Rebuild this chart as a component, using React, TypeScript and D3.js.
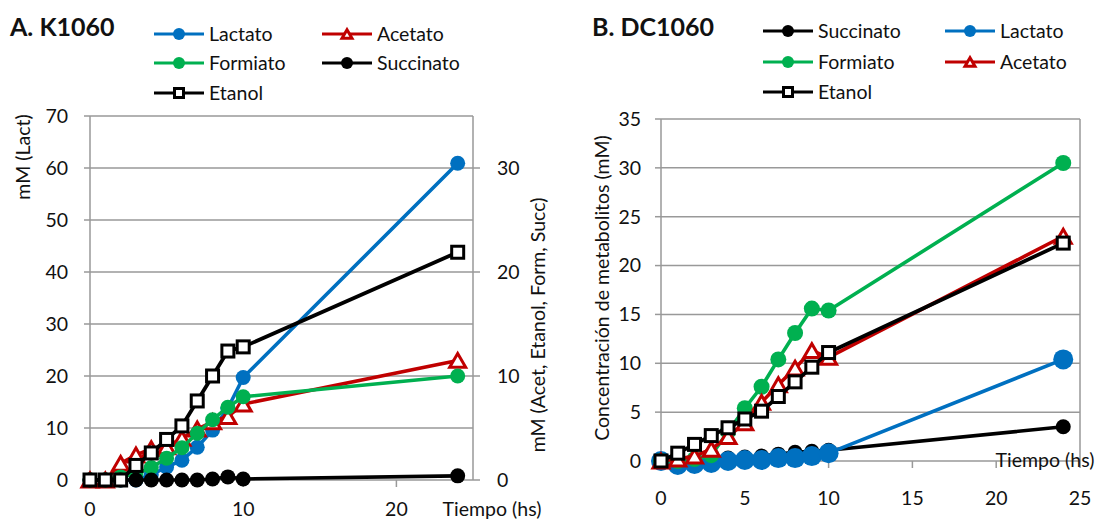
import React from "react";
import * as d3 from "d3";

// Sampling times (h)
const timesA = [0, 1, 2, 3, 4, 5, 6, 7, 8, 9, 10, 24];
const timesB = [0, 1, 2, 3, 4, 5, 6, 7, 8, 9, 10, 24];

// Panel A – K1060 (Lactato on left axis, the rest on the right axis)
const lactatoA = [0, 0, 0, 0, 1.0, 2.5, 3.8, 6.3, 9.6, 13.8, 19.7, 60.9];
const acetatoA = [0, 0, 1.6, 2.4, 3.0, 3.2, 4.0, 4.9, 5.6, 6.1, 7.3, 11.5];
const formiatoA = [0, 0, 0.3, 0.6, 1.2, 2.1, 3.1, 4.5, 5.8, 7.0, 8.0, 10.0];
const succinatoA = [0, 0, 0, 0, 0, 0, 0, 0, 0.1, 0.3, 0.1, 0.4];
const etanolA = [0, 0, 0, 1.4, 2.6, 3.9, 5.2, 7.6, 10.0, 12.4, 12.8, 21.9];

// Panel B – DC1060
const succinatoB = [0, 0, 0.1, 0.2, 0.3, 0.4, 0.5, 0.7, 0.9, 1.0, 1.1, 3.5];
const lactatoB = [0, -0.4, -0.3, -0.2, 0, 0.1, 0.1, 0.3, 0.3, 0.5, 0.8, 10.4];
const formiatoB = [0, 0, 0.2, 0.6, 3.0, 5.4, 7.6, 10.4, 13.1, 15.6, 15.4, 30.5];
const acetatoB = [0, 0.2, 0.5, 1.2, 2.5, 3.9, 6.0, 7.8, 9.5, 11.3, 10.6, 23.0];
const etanolB = [0, 0.8, 1.7, 2.6, 3.4, 4.3, 5.1, 6.6, 8.1, 9.6, 11.1, 22.3];

// Tick values
const ticksALeft = [0, 10, 20, 30, 40, 50, 60, 70];
const ticksARight = [0, 10, 20, 30];
const ticksAX = [0, 10, 20];
const ticksBY = [0, 5, 10, 15, 20, 25, 30, 35];
const ticksBX = [0, 5, 10, 15, 20, 25];

const FONT = "Lato, 'Open Sans', sans-serif";
const FS = 19.5;
const BLUE = "#0070C0";
const RED = "#C00000";
const GREEN = "#00B050";
const BLACK = "#000000";
const GRID = "#999999";
const TXT = "#111111";

type Shape = "circle" | "square" | "triangle";

function Marker({ shape, x, y, color, size }: { shape: Shape; x: number; y: number; color: string; size: number }) {
  if (shape === "circle") return <circle cx={x} cy={y} r={size} fill={color} />;
  if (shape === "square")
    return <rect x={x - size / 2} y={y - size / 2} width={size} height={size} fill="#fff" stroke={color} strokeWidth={3} />;
  const h = (size * Math.sqrt(3)) / 2;
  const p = `M${x},${y - h / 2}L${x - size / 2},${y + h / 2}L${x + size / 2},${y + h / 2}Z`;
  return <path d={p} fill="#fff" stroke={color} strokeWidth={3} strokeLinejoin="miter" />;
}

type Series = {
  name: string;
  values: number[];
  color: string;
  shape: Shape;
  size: number;
  width: number;
  y: d3.ScaleLinear<number, number>;
};

function SeriesG({ s, times, x }: { s: Series; times: number[]; x: d3.ScaleLinear<number, number> }) {
  const line = d3
    .line<number>()
    .x((_, i) => x(times[i]))
    .y((v) => s.y(v));
  return (
    <g>
      <path d={line(s.values) || ""} fill="none" stroke={s.color} strokeWidth={s.width} strokeLinejoin="round" />
      {s.values.map((v, i) => (
        <Marker key={i} shape={s.shape} x={x(times[i])} y={s.y(v)} color={s.color} size={s.size} />
      ))}
    </g>
  );
}

function LegendItem({ x, y, label, color, shape }: { x: number; y: number; label: string; color: string; shape: Shape }) {
  const size = shape === "circle" ? 6 : shape === "square" ? 9 : 10;
  return (
    <g>
      <line x1={x} x2={x + 50} y1={y} y2={y} stroke={color} strokeWidth={3} />
      <Marker shape={shape} x={x + 25} y={y} color={color} size={size} />
      <text x={x + 55} y={y} dy="0.35em" fontSize={FS} fill={TXT}>
        {label}
      </text>
    </g>
  );
}

export default function App() {
  // Panel A scales
  const xA = d3.scaleLinear().domain([0, 25]).range([90, 473]);
  const yAL = d3.scaleLinear().domain([0, 70]).range([480, 116]);
  const yAR = d3.scaleLinear().domain([0, 35]).range([480, 116]);
  // Panel B scales
  const xB = d3.scaleLinear().domain([0, 25]).range([661, 1080]);
  const yB = d3.scaleLinear().domain([0, 35]).range([461, 119]);

  const seriesA: Series[] = [
    { name: "Lactato", values: lactatoA, color: BLUE, shape: "circle", size: 7.5, width: 3.6, y: yAL },
    { name: "Acetato", values: acetatoA, color: RED, shape: "triangle", size: 16, width: 3.6, y: yAR },
    { name: "Formiato", values: formiatoA, color: GREEN, shape: "circle", size: 7.5, width: 3.6, y: yAR },
    { name: "Succinato", values: succinatoA, color: BLACK, shape: "circle", size: 7.5, width: 3.6, y: yAR },
    { name: "Etanol", values: etanolA, color: BLACK, shape: "square", size: 12, width: 3.8, y: yAR },
  ];
  const seriesB: Series[] = [
    { name: "Succinato", values: succinatoB, color: BLACK, shape: "circle", size: 7.5, width: 3.6, y: yB },
    { name: "Lactato", values: lactatoB, color: BLUE, shape: "circle", size: 10, width: 3.6, y: yB },
    { name: "Formiato", values: formiatoB, color: GREEN, shape: "circle", size: 8, width: 3.6, y: yB },
    { name: "Acetato", values: acetatoB, color: RED, shape: "triangle", size: 16, width: 3.6, y: yB },
    { name: "Etanol", values: etanolB, color: BLACK, shape: "square", size: 12, width: 3.8, y: yB },
  ];

  return (
    <svg
      width={1097}
      height={522}
      style={{ position: "absolute", left: 0, top: 0, background: "#fff" }}
      fontFamily={FONT}
    >
      <rect width={1097} height={522} fill="#fff" />

      {/* ===== Panel A ===== */}
      <text x={10} y={27} dy="0.35em" fontSize={25} fontWeight="bold" fill={TXT}>
        A. K1060
      </text>
      <LegendItem x={154} y={34} label="Lactato" color={BLUE} shape="circle" />
      <LegendItem x={322} y={34} label="Acetato" color={RED} shape="triangle" />
      <LegendItem x={154} y={63} label="Formiato" color={GREEN} shape="circle" />
      <LegendItem x={322} y={63} label="Succinato" color={BLACK} shape="circle" />
      <LegendItem x={154} y={93} label="Etanol" color={BLACK} shape="square" />

      {ticksALeft.map((t) => (
        <line key={"ga" + t} x1={xA(0)} x2={xA(25)} y1={yAL(t)} y2={yAL(t)} stroke={GRID} strokeWidth={1.5} />
      ))}
      <line x1={xA(0)} x2={xA(0)} y1={yAL(70)} y2={yAL(0)} stroke={GRID} strokeWidth={1.5} />
      <line x1={xA(25)} x2={xA(25)} y1={yAL(70)} y2={yAL(0)} stroke={GRID} strokeWidth={1.5} />
      {ticksALeft.map((t) => (
        <g key={"tal" + t}>
          <line x1={xA(0) - 6} x2={xA(0)} y1={yAL(t)} y2={yAL(t)} stroke={GRID} strokeWidth={1.5} />
          <text x={68} y={yAL(t)} dy="0.35em" textAnchor="end" fontSize={FS} fill={TXT}>
            {t}
          </text>
        </g>
      ))}
      {ticksARight.map((t) => (
        <g key={"tar" + t}>
          <line x1={xA(25)} x2={xA(25) + 7} y1={yAR(t)} y2={yAR(t)} stroke={GRID} strokeWidth={1.5} />
          <text x={497} y={yAR(t)} dy="0.35em" textAnchor="start" fontSize={FS} fill={TXT}>
            {t}
          </text>
        </g>
      ))}
      {ticksAX.map((t) => (
        <g key={"tax" + t}>
          <line x1={xA(t)} x2={xA(t)} y1={yAL(0)} y2={yAL(0) + 7} stroke={GRID} strokeWidth={1.5} />
          <text x={xA(t)} y={509} dy="0.35em" textAnchor="middle" fontSize={FS} fill={TXT}>
            {t}
          </text>
        </g>
      ))}
      <text transform="translate(23,157) rotate(-90)" textAnchor="middle" dy="0.35em" fontSize={FS} fill={TXT}>
        mM (Lact)
      </text>
      <text transform="translate(538,325) rotate(-90)" textAnchor="middle" dy="0.35em" fontSize={FS} fill={TXT}>
        mM (Acet, Etanol, Form, Succ)
      </text>
      <text x={492} y={509} dy="0.35em" textAnchor="middle" fontSize={FS} fill={TXT}>
        Tiempo (hs)
      </text>
      {seriesA.map((s) => (
        <SeriesG key={s.name} s={s} times={timesA} x={xA} />
      ))}

      {/* ===== Panel B ===== */}
      <text x={592} y={27} dy="0.35em" fontSize={25} fontWeight="bold" fill={TXT}>
        B. DC1060
      </text>
      <LegendItem x={763} y={31} label="Succinato" color={BLACK} shape="circle" />
      <LegendItem x={945} y={31} label="Lactato" color={BLUE} shape="circle" />
      <LegendItem x={763} y={62} label="Formiato" color={GREEN} shape="circle" />
      <LegendItem x={945} y={62} label="Acetato" color={RED} shape="triangle" />
      <LegendItem x={763} y={92} label="Etanol" color={BLACK} shape="square" />

      {ticksBY.map((t) => (
        <g key={"gb" + t}>
          <line x1={xB(0)} x2={xB(25)} y1={yB(t)} y2={yB(t)} stroke={GRID} strokeWidth={1.5} />
          <line x1={xB(0) - 6} x2={xB(0)} y1={yB(t)} y2={yB(t)} stroke={GRID} strokeWidth={1.5} />
          <text x={641} y={yB(t)} dy="0.35em" textAnchor="end" fontSize={FS} fill={TXT}>
            {t}
          </text>
        </g>
      ))}
      <line x1={xB(0)} x2={xB(0)} y1={yB(35)} y2={yB(0)} stroke={GRID} strokeWidth={1.5} />
      <line x1={xB(25)} x2={xB(25)} y1={yB(35)} y2={yB(0)} stroke={GRID} strokeWidth={1.5} />
      {ticksBX.map((t) => (
        <g key={"tbx" + t}>
          <line x1={xB(t)} x2={xB(t)} y1={yB(0)} y2={yB(0) + 7} stroke={GRID} strokeWidth={1.5} />
          <text x={xB(t)} y={498} dy="0.35em" textAnchor="middle" fontSize={FS} fill={TXT}>
            {t}
          </text>
        </g>
      ))}
      <text transform="translate(602,288) rotate(-90)" textAnchor="middle" dy="0.35em" fontSize={FS} fill={TXT}>
        Concentración de metabolitos (mM)
      </text>
      {seriesB.map((s) => (
        <SeriesG key={s.name} s={s} times={timesB} x={xB} />
      ))}
      <text x={1045} y={460} dy="0.35em" textAnchor="middle" fontSize={FS} fill={TXT}>
        Tiempo (hs)
      </text>
    </svg>
  );
}
